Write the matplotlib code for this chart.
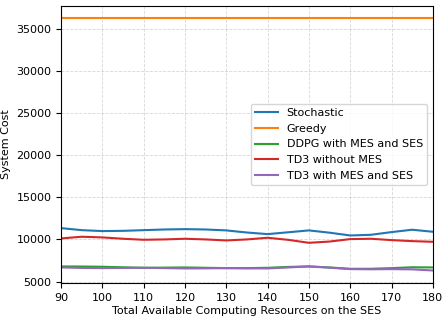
import numpy as np
import matplotlib
matplotlib.use("Agg")
import matplotlib.pyplot as plt

plt.rcParams["font.size"] = 8

x = [90, 95, 100, 105, 110, 115, 120, 125, 130, 135, 140, 145, 150, 155, 160, 165, 170, 175, 180]

stochastic = [11340, 11100, 10990, 11020, 11100, 11180, 11220, 11180, 11070, 10820, 10630,
              10850, 11070, 10800, 10470, 10550, 10870, 11150, 10910]
greedy = [36200] * 19
ddpg = [6800, 6790, 6760, 6700, 6640, 6660, 6680, 6640, 6600, 6600, 6640,
        6740, 6800, 6680, 6520, 6520, 6600, 6700, 6680]
td3_no_mes = [10120, 10320, 10240, 10080, 9960, 10000, 10080, 10000, 9880, 10000, 10200,
              9950, 9600, 9750, 10040, 10080, 9920, 9800, 9720]
td3_full = [6680, 6620, 6600, 6620, 6640, 6600, 6560, 6570, 6600, 6570, 6560,
            6680, 6800, 6650, 6480, 6460, 6480, 6450, 6320]

fig, ax = plt.subplots(figsize=(4.43, 3.25), dpi=100)
ax.plot(x, stochastic, label="Stochastic")
ax.plot(x, greedy, label="Greedy")
ax.plot(x, ddpg, label="DDPG with MES and SES")
ax.plot(x, td3_no_mes, label="TD3 without MES")
ax.plot(x, td3_full, label="TD3 with MES and SES")

ax.set_xlim(90, 180)
ax.set_xticks(np.arange(90, 181, 10))
ax.set_xlabel("Total Available Computing Resources on the SES", labelpad=2)
ax.set_ylabel("System Cost")
ax.grid(True, linestyle="--", linewidth=0.6, alpha=0.5)
ax.legend(loc="center right")

plt.subplots_adjust(left=0.138, right=0.977, top=0.982, bottom=0.129)
plt.savefig("out.png")
